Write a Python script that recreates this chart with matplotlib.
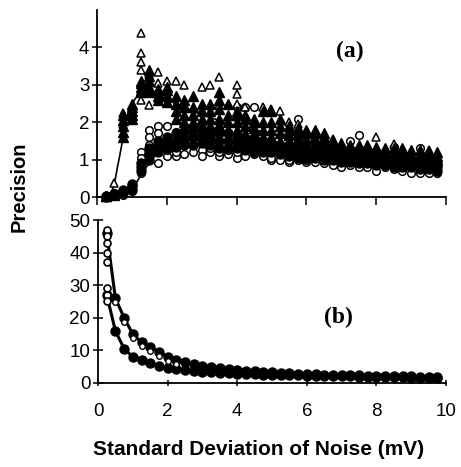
import matplotlib
matplotlib.use("Agg")
import matplotlib.pyplot as plt

plt.rcParams['font.family'] = ['Liberation Sans', 'DejaVu Sans']

tick_size = 13.5
label_size = 14.5
panel_size = 17

# noise levels (mV) where the simulations were run
noise_sd = [0.25, 0.5, 0.75, 1.0, 1.25, 1.5, 1.75, 2.0, 2.25, 2.5,
            2.75, 3.0, 3.25, 3.5, 3.75, 4.0, 4.25, 4.5, 4.75, 5.0,
            5.25, 5.5, 5.75, 6.0, 6.25, 6.5, 6.75, 7.0, 7.25, 7.5,
            7.75, 8.0, 8.25, 8.5, 8.75, 9.0, 9.25, 9.5, 9.75]

# panel (a): precision values, one list per noise level
tri_filled = [[0.02, 0.03], [0.05, 0.08], [1.6, 1.75, 1.9, 2.05, 2.2], [2.1, 2.2, 2.3, 2.4, 2.5],
              [2.8, 2.85, 2.95, 3.05, 3.1], [2.8, 2.95, 3.1, 3.25, 3.4], [2.6, 2.7, 2.8, 2.9],
              [2.55, 2.7, 2.85, 2.95], [2.1, 2.3, 2.5, 2.7], [2.0, 2.2, 2.4, 2.6],
              [2.0, 2.2, 2.4, 2.7], [1.9, 2.1, 2.3, 2.5], [1.9, 2.1, 2.3, 2.5],
              [1.9, 2.1, 2.35, 2.6, 2.8], [1.8, 2.0, 2.2, 2.5], [1.8, 2.0, 2.2, 2.3],
              [1.7, 1.9, 2.1, 2.2], [1.7, 1.85, 2.0, 2.1], [1.6, 1.8, 2.0, 2.3],
              [1.6, 1.8, 2.0, 2.3], [1.5, 1.7, 1.9, 2.1], [1.5, 1.65, 1.8, 1.9],
              [1.4, 1.55, 1.7, 1.85], [1.4, 1.55, 1.7, 1.8], [1.4, 1.55, 1.7, 1.8],
              [1.35, 1.5, 1.6, 1.7], [1.3, 1.45, 1.5], [1.25, 1.35, 1.45], [1.25, 1.35, 1.4],
              [1.2, 1.3, 1.4], [1.2, 1.3, 1.4], [1.15, 1.25, 1.35], [1.1, 1.2, 1.3],
              [1.1, 1.2, 1.3], [1.1, 1.2, 1.3], [1.05, 1.15, 1.25], [1.05, 1.15, 1.25],
              [1.0, 1.1, 1.2], [1.0, 1.1, 1.2]]
tri_open = [[0.03], [0.37, 0.1], [2.25, 1.95], [2.4, 2.15], [4.4, 3.85, 3.6, 3.4, 2.6],
            [3.3, 2.45], [3.35, 3.05], [3.1, 2.9], [3.1], [3.0, 2.5], [2.2], [2.95, 2.3],
            [3.0], [3.2, 2.45], [2.45], [3.0, 2.75, 2.5], [2.4], [], [2.4], [2.35], [2.3],
            [2.0], [1.95], [], [1.6], [], [1.55], [], [], [], [], [1.6], [], [1.42], [],
            [], [], [1.25], []]
circ_filled = [[0.0, 0.02], [0.05, 0.08], [0.1, 0.15, 0.2], [0.2, 0.3, 0.35], [0.7, 0.8, 0.9],
               [1.0, 1.15, 1.3], [1.2, 1.35, 1.5], [1.3, 1.45, 1.6], [1.35, 1.5, 1.7],
               [1.4, 1.55, 1.75], [1.4, 1.6, 1.8], [1.45, 1.6, 1.75], [1.4, 1.6, 1.8],
               [1.3, 1.5, 1.7], [1.3, 1.5, 1.7], [1.3, 1.45, 1.6], [1.25, 1.4, 1.55],
               [1.2, 1.35, 1.5], [1.2, 1.35, 1.5], [1.2, 1.3, 1.45], [1.15, 1.3, 1.4],
               [1.1, 1.25, 1.4], [1.05, 1.2, 1.35], [1.05, 1.2, 1.3], [1.05, 1.15, 1.3],
               [1.0, 1.1, 1.25], [1.0, 1.1, 1.2], [0.95, 1.05, 1.15], [0.95, 1.05, 1.15],
               [0.9, 1.0, 1.1], [0.9, 1.0, 1.1], [0.85, 0.95, 1.05], [0.85, 0.95, 1.05],
               [0.8, 0.9, 1.0], [0.8, 0.9, 1.0], [0.8, 0.9, 1.0], [0.75, 0.85, 0.95],
               [0.75, 0.85, 0.95], [0.7, 0.8, 0.9]]
circ_open = [[0.01], [0.1], [0.05, 0.12], [0.25, 0.3, 0.15], [1.2, 1.05, 0.9, 0.65],
             [1.8, 1.6, 1.4, 1.0], [1.9, 1.7, 0.9], [1.9, 1.1, 1.25], [1.75, 1.1, 1.2],
             [1.8, 1.15], [1.9, 1.2], [1.95, 1.25, 1.1], [1.2, 1.3], [1.1, 1.2, 1.85],
             [1.15, 1.25], [2.4, 1.05, 1.2], [2.4, 1.1], [2.4, 1.15], [1.1], [1.0, 1.05],
             [1.0], [0.95, 1.0], [2.1, 1.0], [0.95, 1.0], [0.95], [0.9], [0.85], [0.8],
             [1.5, 0.85], [1.65, 0.8], [0.8], [0.7], [0.8], [1.33, 0.75], [0.7], [0.65],
             [1.3, 0.65], [0.65], [0.65]]

# panel (a): fitted curves
fit_tri_x = [0.25, 0.38, 0.5, 0.57, 0.65, 0.72, 0.8, 0.86, 0.93, 1.0, 1.15, 1.3, 1.5, 2.0,
             2.5, 3.0, 4.0, 5.0, 6.0, 7.0, 8.0, 9.0, 9.75]
fit_tri_y = [0.0, 0.05, 0.35, 0.72, 1.1, 1.45, 1.85, 2.15, 2.35, 2.5, 2.7, 2.8, 2.8, 2.6,
             2.4, 2.2, 1.9, 1.7, 1.5, 1.35, 1.25, 1.15, 1.1]
fit_circ_x = [0.25, 0.5, 0.72, 0.9, 1.05, 1.17, 1.29, 1.41, 1.53, 1.7, 1.9, 2.2, 2.5, 3.0,
              4.0, 5.0, 6.0, 7.0, 8.0, 9.0, 9.75]
fit_circ_y = [0.0, 0.0, 0.05, 0.15, 0.27, 0.45, 0.64, 0.8, 0.93, 1.15, 1.35, 1.45, 1.5, 1.52,
              1.45, 1.35, 1.25, 1.15, 1.05, 1.0, 0.95]

# panel (b): the two sets
set_high = [46, 26, 20, 15, 12.5, 11, 9.5, 8, 7, 6.3, 5.8, 5.3, 4.9, 4.6, 4.3, 4.0, 3.8,
            3.6, 3.4, 3.25, 3.1, 3.0, 2.9, 2.8, 2.7, 2.6, 2.5, 2.45, 2.4, 2.3, 2.25, 2.2,
            2.15, 2.1, 2.05, 2.0, 1.95, 1.9, 1.85]
set_low = [27, 16, 10.5, 8, 7, 6, 5.2, 4.7, 4.3, 4.0, 3.7, 3.5, 3.3, 3.1, 3.0, 2.9, 2.8,
           2.7, 2.6, 2.5, 2.45, 2.4, 2.3, 2.25, 2.2, 2.15, 2.1, 2.05, 2.0, 1.95, 1.9, 1.85,
           1.8, 1.75, 1.7, 1.65, 1.6, 1.55, 1.5]
# replicate values at the lowest noise level
first_high_reps = [47, 45, 43, 40, 37]
first_low_reps = [29, 27, 25]


def flatten(groups):
    xs, ys = [], []
    for x, vals in zip(noise_sd, groups):
        for v in vals:
            xs.append(x)
            ys.append(v)
    return xs, ys


def style_axes(ax):
    for side in ["top", "right"]:
        ax.spines[side].set_visible(False)
    for side in ["left", "bottom"]:
        ax.spines[side].set_linewidth(1.3)
    ax.set_xlim(0, 10)
    ax.set_xticks([0, 2, 4, 6, 8, 10])
    ax.tick_params(axis='y', direction='inout', length=7, width=1.1, labelsize=tick_size, pad=2)


fig = plt.figure(figsize=(4.61, 4.67), dpi=100)
ax_a = fig.add_axes([0.2104, 0.578, 0.757, 0.4004])
ax_b = fig.add_axes([0.2126, 0.1799, 0.755, 0.349])

# ---- panel (a)
style_axes(ax_a)
ax_a.plot(fit_tri_x, fit_tri_y, color="black", lw=1.2, zorder=1)
ax_a.plot(fit_circ_x, fit_circ_y, color="black", lw=1.2, zorder=1)
x, y = flatten(circ_open)
ax_a.plot(x, y, 'o', ms=5.5, mfc="white", mec="black", mew=1.1, clip_on=False, zorder=2)
x, y = flatten(circ_filled)
ax_a.plot(x, y, 'o', ms=6.5, mfc="black", mec="black", mew=1.0, clip_on=False, zorder=3)
x, y = flatten(tri_open)
ax_a.plot(x, y, '^', ms=5.5, mfc="white", mec="black", mew=1.1, clip_on=False, zorder=3)
x, y = flatten(tri_filled)
ax_a.plot(x, y, '^', ms=7.5, mfc="black", mec="black", mew=1.0, clip_on=False, zorder=4)
ax_a.set_ylim(0, 5)
ax_a.set_yticks([0, 1, 2, 3, 4])
ax_a.tick_params(axis='x', direction='out', length=6, width=1.1, labelbottom=False)
ax_a.text(7.25, 3.9, "(a)", fontsize=panel_size, fontweight="bold", family="Liberation Serif",
          ha="center", va="center")

# ---- panel (b)
style_axes(ax_b)
ax_b.plot(noise_sd, set_high, '-o', color="black", lw=2.2, ms=6.5, mfc="black", mec="black",
          clip_on=False, zorder=3)
ax_b.plot(noise_sd, set_low, '-o', color="black", lw=2.2, ms=6.5, mfc="black", mec="black",
          clip_on=False, zorder=3)
ax_b.plot(noise_sd[:1] * len(first_high_reps), first_high_reps, 'o', ms=5, mfc="white",
          mec="black", mew=1.2, zorder=4)
ax_b.plot(noise_sd[:1] * len(first_low_reps), first_low_reps, 'o', ms=5, mfc="white",
          mec="black", mew=1.2, zorder=4)
ax_b.plot(noise_sd[1:9], [v - 1.2 for v in set_high[1:9]], 'o', ms=4, mfc="white",
          mec="black", mew=1.0, zorder=4)
ax_b.set_ylim(0, 50)
ax_b.set_yticks([0, 10, 20, 30, 40, 50])
ax_b.tick_params(axis='x', direction='inout', length=5, width=1.1, labelsize=tick_size, pad=12)
ax_b.text(6.9, 20, "(b)", fontsize=panel_size, fontweight="bold", family="Liberation Serif",
          ha="center", va="center")

fig.text(0.041, 0.60, "Precision", rotation=90, fontsize=label_size, fontweight="bold",
         ha="center", va="center")
fig.text(0.56, 0.037, "Standard Deviation of Noise (mV)", fontsize=15,
         fontweight="bold", ha="center", va="center")

fig.savefig("out.png", dpi=100)
